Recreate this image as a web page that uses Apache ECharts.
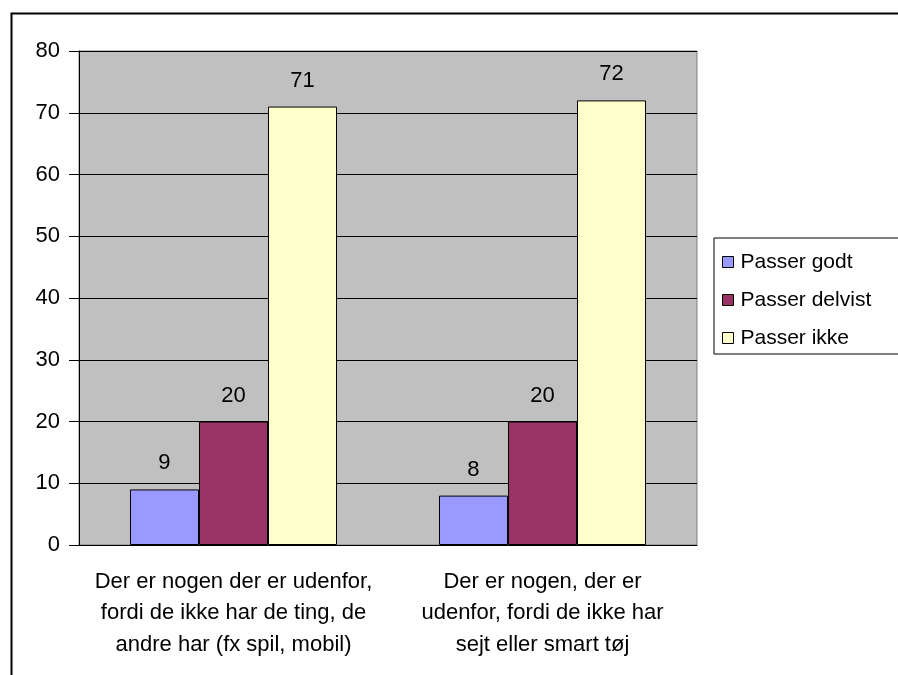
<!DOCTYPE html>
<html>
<head>
<meta charset="utf-8">
<script src="https://cdn.jsdelivr.net/npm/echarts@6/dist/echarts.min.js"></script>
<style>html,body{margin:0;padding:0;background:#fff;}#c{width:898px;height:675px;}</style>
</head>
<body>
<div id="c"></div>
<script>
var categories = [
  "Der er nogen der er udenfor,\nfordi de ikke har de ting, de\nandre har (fx spil, mobil)",
  "Der er nogen, der er\nudenfor, fordi de ikke har\nsejt eller smart tøj"
];
var seriesNames = ["Passer godt", "Passer delvist", "Passer ikke"];
var passerGodt = [9, 8];
var passerDelvist = [20, 20];
var passerIkke = [71, 72];
var yTicks = [0, 10, 20, 30, 40, 50, 60, 70, 80];

var colors = ["#9999FF", "#993366", "#FFFFCC"];
var font = "Liberation Sans, Arial, sans-serif";
var values = [passerGodt, passerDelvist, passerIkke];

var chart = echarts.init(document.getElementById('c'));
var series = seriesNames.map(function (n, i) {
  return {
    name: n,
    type: 'bar',
    data: values[i],
    barGap: '0%',
    barCategoryGap: '33%',
    itemStyle: { color: colors[i], borderColor: '#000', borderWidth: 1 },
    label: { show: true, position: 'top', distance: 15, color: '#000', fontSize: 22, fontFamily: font },
    emphasis: { disabled: true },
    animation: false
  };
});

chart.setOption({
  animation: false,
  graphic: [{
    type: 'rect', left: 9, top: 11,
    shape: { width: 900, height: 700 },
    style: { fill: 'none', stroke: '#000', lineWidth: 2 },
    z: 100
  }],
  legend: {
    orient: 'vertical',
    left: 714, top: 238,
    width: 184,
    padding: [12, 30, 4, 8],
    itemGap: 14,
    itemWidth: 11, itemHeight: 11,
    icon: 'rect',
    borderColor: '#000', borderWidth: 1,
    textStyle: { fontSize: 21, fontFamily: font, color: '#000', lineHeight: 24, padding: [0, 0, 0, 2] },
    itemStyle: { borderColor: '#000', borderWidth: 1 },
    data: seriesNames
  },
  grid: {
    left: 79, top: 51, width: 618, height: 494,
    show: true, backgroundColor: '#C0C0C0', borderColor: '#808080', borderWidth: 1
  },
  xAxis: {
    type: 'category',
    data: categories,
    axisLine: { lineStyle: { color: '#000', width: 1 } },
    axisTick: { length: 8, lineStyle: { color: '#000' } },
    axisLabel: { color: '#000', fontSize: 22, fontFamily: font, lineHeight: 31.5, margin: 21, interval: 0, align: 'center' }
  },
  yAxis: {
    type: 'value',
    min: 0, max: 80, interval: 10,
    axisLine: { show: true, lineStyle: { color: '#000', width: 1 } },
    axisTick: { show: true, length: 10, lineStyle: { color: '#000' } },
    splitLine: { lineStyle: { color: '#000', width: 1 } },
    axisLabel: {
      color: '#000', fontSize: 22, fontFamily: font, margin: 19,
      formatter: function (v) { return yTicks.indexOf(v) >= 0 ? String(v) : ''; }
    }
  },
  series: series
});
</script>
</body>
</html>
